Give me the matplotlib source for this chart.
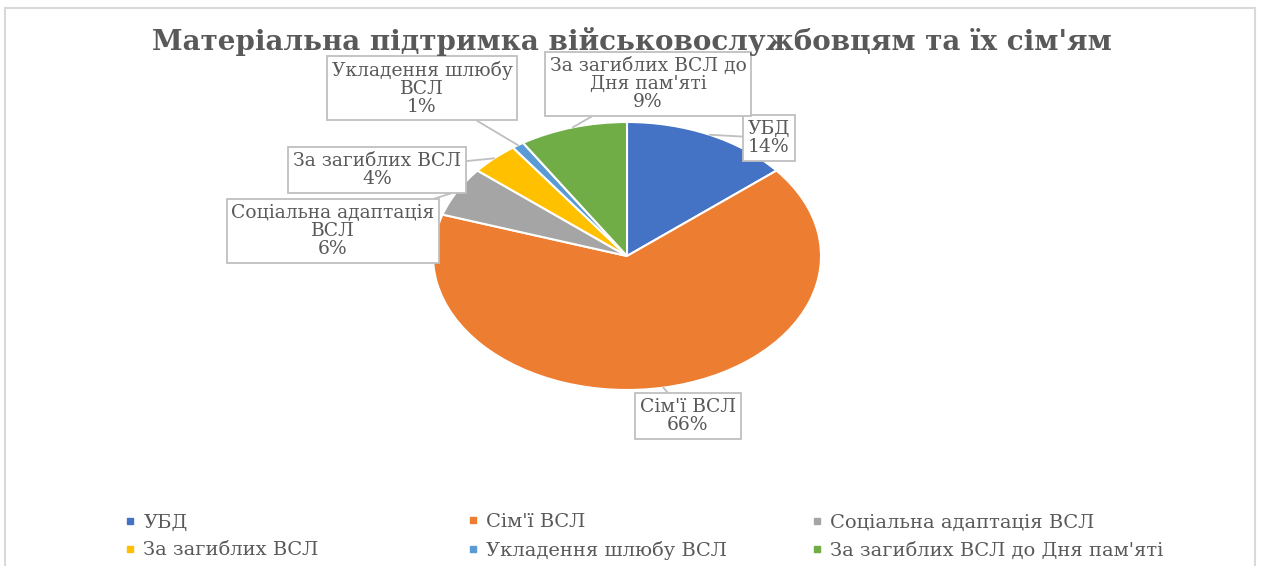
import numpy as np
import matplotlib
matplotlib.use('Agg')
import matplotlib.pyplot as plt
from matplotlib.patches import Rectangle
from matplotlib.lines import Line2D

plt.rcParams['font.family'] = ['DejaVu Serif', 'Liberation Serif']

# дані
categories = ["УБД", "Сім'ї ВСЛ", "Соціальна адаптація ВСЛ", "За загиблих ВСЛ",
              "Укладення шлюбу ВСЛ", "За загиблих ВСЛ до Дня пам'яті"]
label_text = ["УБД", "Сім'ї ВСЛ", "Соціальна адаптація\nВСЛ", "За загиблих ВСЛ",
              "Укладення шлюбу\nВСЛ", "За загиблих ВСЛ до\nДня пам'яті"]
values = [14, 66, 6, 4, 1, 9]
colors = ['#4472C4', '#ED7D31', '#A5A5A5', '#FFC000', '#5B9BD5', '#70AD47']
title = "Матеріальна підтримка військовослужбовцям та їх сім'ям"

W, H = 1265, 566
fig = plt.figure(figsize=(W / 100, H / 100), dpi=100)

# рамка діаграми
fig.add_artist(Rectangle((5 / W, -0.02), 1250 / W, (H - 8) / H + 0.02, transform=fig.transFigure,
                         fill=False, ec='#D9D9D9', lw=1.5))

# кругова діаграма (еліпс)
cx, cy, rx, ry = 627, 256, 194, 134
ax = fig.add_axes([(cx - rx) / W, (H - cy - ry) / H, 2 * rx / W, 2 * ry / H])
wedges, _ = ax.pie(values, colors=colors, startangle=90, counterclock=False,
                   wedgeprops=dict(edgecolor='white', linewidth=1.5))
ax.set_aspect('auto')
ax.set_xlim(-1, 1)
ax.set_ylim(-1, 1)
ax.axis('off')

# підписи даних (центр рамки в пікселях)
lab_pos = [(769, 138), (688, 416), (333, 231), (377, 170), (422, 88), (648, 84)]
for w, txt, v, (px, py) in zip(wedges, label_text, values, lab_pos):
    ang = np.deg2rad((w.theta1 + w.theta2) / 2)
    ax.annotate(f"{txt}\n{v}%", xy=(np.cos(ang), np.sin(ang)), xycoords='data',
                xytext=(px, H - py), textcoords='figure pixels',
                ha='center', va='center', fontsize=13.5, color='#595959',
                linespacing=1.0, annotation_clip=False,
                bbox=dict(boxstyle='square,pad=0.25', fc='white', ec='#BFBFBF', lw=1.3),
                arrowprops=dict(arrowstyle='-', color='#BFBFBF', lw=1.3, shrinkA=0, shrinkB=0))

fig.text(632 / W, 1 - 41 / H, title, ha='center', va='center', fontsize=20,
         fontweight='bold', color='#595959')

# легенда: три стовпці по два рядки
col_x = [124, 467, 811]
for j in range(3):
    hs = []
    for i in (j, j + 3):
        hs.append(Line2D([], [], ls='none', marker='s', markersize=4.5,
                         color=colors[i], label=categories[i]))
    fig.legend(handles=hs, loc='center left', bbox_to_anchor=(col_x[j] / W, 1 - 536.5 / H),
               frameon=False, fontsize=14, handlelength=0.6, handletextpad=0.4,
               labelspacing=0.5, borderpad=0, borderaxespad=0, labelcolor='#595959')

fig.savefig('out.png', dpi=100, facecolor='white')
